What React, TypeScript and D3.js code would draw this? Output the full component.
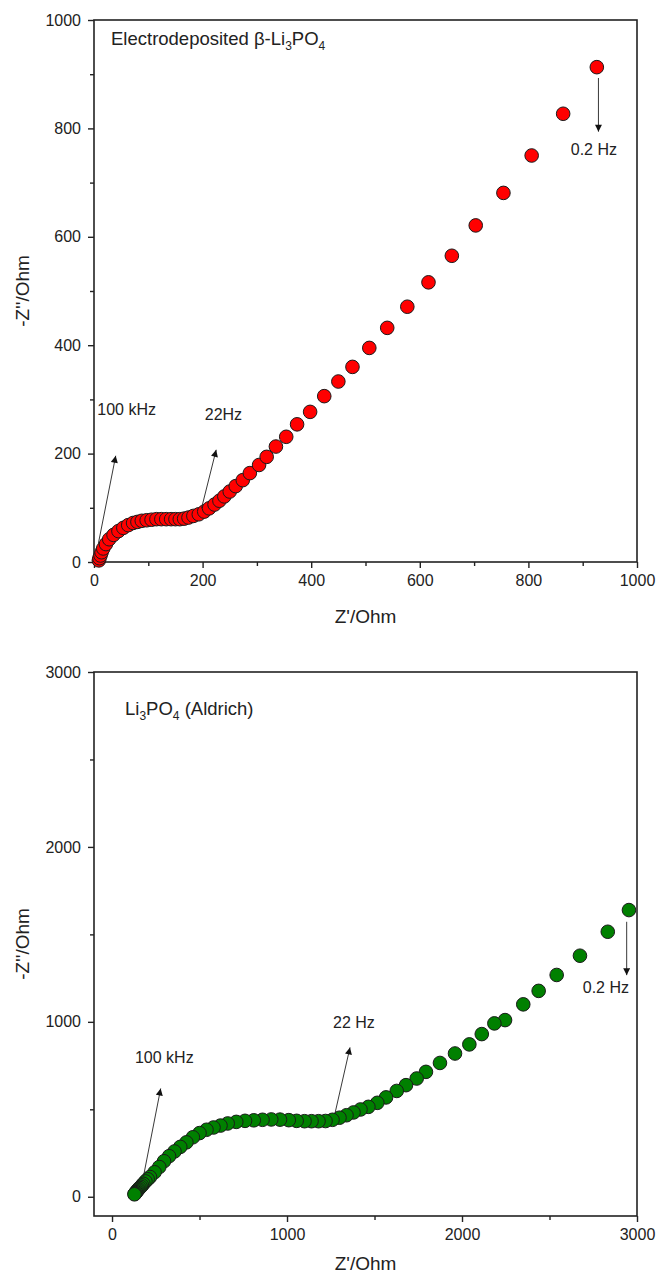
import React, { useEffect, useRef } from 'react';
import * as d3 from 'd3';

// Electrodeposited beta-Li3PO4 (Z', -Z'') in Ohm
const topZre = [926, 864, 806, 754, 703, 659, 616, 577, 540, 507, 476, 450, 424, 398, 374, 354, 335, 318, 304, 287, 274, 261, 250, 240, 231, 222, 212, 203, 193, 183, 174, 166, 158, 150, 142, 133, 124, 115, 106, 97, 88, 80, 72, 63, 54, 45, 36, 28, 22, 17, 14, 12, 10, 9];
const topZim = [913, 827, 750, 681, 621, 565, 516, 471, 432, 395, 360, 333, 306, 277, 254, 231, 213, 194, 179, 164, 151, 140, 130, 121, 113, 106, 99, 93, 88, 85, 82, 80, 79, 79, 79, 79, 79, 79, 78, 77, 76, 74, 72, 68, 63, 57, 50, 42, 33, 25, 18, 12, 7, 3];

// Li3PO4 (Aldrich)
const botZre = [128, 130, 133, 137, 141, 146, 151, 157, 164, 171, 179, 191, 204, 217, 243, 270, 297, 326, 357, 390, 425, 462, 500, 540, 580, 620, 661, 710, 760, 810, 860, 910, 960, 1010, 1055, 1100, 1140, 1180, 1220, 1260, 1300, 1340, 1380, 1420, 1465, 1516, 1566, 1627, 1680, 1741, 1794, 1874, 1960, 2042, 2113, 2185, 2246, 2350, 2438, 2541, 2674, 2833, 2954];
const botZim = [14, 17, 21, 26, 31, 37, 43, 50, 57, 65, 74, 88, 100, 113, 140, 170, 203, 232, 259, 285, 311, 340, 364, 383, 396, 407, 419, 428, 434, 437, 440, 442, 441, 438, 434, 432, 432, 432, 433, 440, 452, 466, 482, 499, 514, 537, 568, 605, 638, 676, 714, 765, 819, 871, 930, 991, 1010, 1100, 1177, 1268, 1378, 1515, 1639];

const topXTicks = [0, 200, 400, 600, 800, 1000];
const topYTicks = [0, 200, 400, 600, 800, 1000];
const botTicks = [0, 1000, 2000, 3000];

type Note = { text: string; tx: number; ty: number; ax: number[] };

const topNotes: Note[] = [
  { text: '100 kHz', tx: 6, ty: 271, ax: [8, 34, 40, 196] },
  { text: '22Hz', tx: 204, ty: 262, ax: [198, 99, 225, 207] },
  { text: '0.2 Hz', tx: 878, ty: 751, ax: [929, 893, 929, 794] },
];
const botNotes: Note[] = [
  { text: '100 kHz', tx: 131, ty: 764, ax: [179, 113, 278, 619] },
  { text: '22 Hz', tx: 1263, ty: 964, ax: [1274, 476, 1360, 854] },
  { text: '0.2 Hz', tx: 2690, ty: 1164, ax: [2941, 1572, 2941, 1267] },
];

const FONT = '"Liberation Sans", Arial, sans-serif';

type PanelOpts = {
  xs: number[];
  ys: number[];
  xDomain: [number, number];
  yDomain: [number, number];
  xTicks: number[];
  yTicks: number[];
  minorStep: number;
  left: number;
  right: number;
  top: number;
  bottom: number;
  xLabelY: number;
  fill: string;
  notes: Note[];
  title: 'top' | 'bot';
};

function drawPanel(root: d3.Selection<SVGSVGElement, unknown, null, undefined>, o: PanelOpts) {
  const x = d3.scaleLinear().domain(o.xDomain).range([o.left, o.right]);
  const y = d3.scaleLinear().domain(o.yDomain).range([o.bottom, o.top]);
  const g = root.append('g');

  // frame
  g.append('rect')
    .attr('x', o.left).attr('y', o.top)
    .attr('width', o.right - o.left).attr('height', o.bottom - o.top)
    .attr('fill', 'none').attr('stroke', '#222').attr('stroke-width', 1.6);

  const minorX = d3.range(o.xTicks[0], o.xTicks[o.xTicks.length - 1], o.minorStep).filter(v => !o.xTicks.includes(v));
  const minorY = d3.range(o.yTicks[0], o.yTicks[o.yTicks.length - 1], o.minorStep).filter(v => !o.yTicks.includes(v));

  const xAxis = g.append('g')
    .attr('transform', `translate(0,${o.bottom})`)
    .call(d3.axisBottom(x).tickValues(o.xTicks).tickSize(6).tickPadding(7).tickFormat(d3.format('d')));
  xAxis.append('g').call(d3.axisBottom(x).tickValues(minorX).tickSize(4).tickFormat(() => ''));

  const yAxis = g.append('g')
    .attr('transform', `translate(${o.left},0)`)
    .call(d3.axisLeft(y).tickValues(o.yTicks).tickSize(6).tickPadding(7).tickFormat(d3.format('d')));
  yAxis.append('g').call(d3.axisLeft(y).tickValues(minorY).tickSize(4).tickFormat(() => ''));

  g.selectAll('.domain').remove();
  g.selectAll('.tick line').attr('stroke', '#222').attr('stroke-width', 1.4);
  g.selectAll('.tick text').attr('fill', '#222').style('font-family', FONT).style('font-size', '16px');

  // points
  const pts = d3.zip(o.xs, o.ys);
  g.append('g').selectAll('circle').data(pts.slice().reverse()).join('circle')
    .attr('cx', d => x(d[0])).attr('cy', d => y(d[1]))
    .attr('r', 6.8).attr('fill', o.fill).attr('stroke', '#1a1a1a').attr('stroke-width', 1);

  // annotations
  o.notes.forEach(n => {
    g.append('line')
      .attr('x1', x(n.ax[0])).attr('y1', y(n.ax[1]))
      .attr('x2', x(n.ax[2])).attr('y2', y(n.ax[3]))
      .attr('stroke', '#222').attr('stroke-width', 0.9)
      .attr('marker-end', 'url(#arrowHead)');
    g.append('text')
      .attr('x', x(n.tx)).attr('y', y(n.ty))
      .style('font-family', FONT).style('font-size', '16px').attr('fill', '#222')
      .text(n.text);
  });

  // axis titles
  const cx = (o.left + o.right) / 2;
  g.append('text')
    .attr('x', cx).attr('y', o.xLabelY)
    .attr('text-anchor', 'middle')
    .style('font-family', FONT).style('font-size', '19px').attr('fill', '#222')
    .text("Z'/Ohm");
  g.append('text')
    .attr('transform', `translate(29,${(o.top + o.bottom) / 2}) rotate(-90)`)
    .attr('text-anchor', 'middle')
    .style('font-family', FONT).style('font-size', '19px').attr('fill', '#222')
    .text("-Z''/Ohm");

  // panel label
  const t = g.append('text')
    .style('font-family', FONT).style('font-size', '18.5px').attr('fill', '#222');
  const sub = (s: string) => t.append('tspan').attr('dy', 5).style('font-size', '12px').text(s);
  const up = (s: string) => t.append('tspan').attr('dy', -5).text(s);
  if (o.title === 'top') {
    t.attr('x', 111).attr('y', o.top + 25);
    t.append('tspan').text('Electrodeposited β-Li');
    sub('3');
    up('PO');
    sub('4');
  } else {
    t.attr('x', 125).attr('y', o.top + 43);
    t.append('tspan').text('Li');
    sub('3');
    up('PO');
    sub('4');
    up(' (Aldrich)');
  }
}

const App = () => {
  const ref = useRef<SVGSVGElement>(null);

  useEffect(() => {
    const svg = d3.select(ref.current as SVGSVGElement);
    svg.selectAll('*').remove();

    svg.append('defs').append('marker')
      .attr('id', 'arrowHead')
      .attr('viewBox', '0 0 10 10')
      .attr('refX', 10).attr('refY', 5)
      .attr('markerWidth', 8).attr('markerHeight', 7)
      .attr('markerUnits', 'userSpaceOnUse')
      .attr('orient', 'auto')
      .append('path').attr('d', 'M0,0 L10,5 L0,10 Z').attr('fill', '#111');

    drawPanel(svg, {
      xs: topZre, ys: topZim,
      xDomain: [0, 1000], yDomain: [0, 1000],
      xTicks: topXTicks, yTicks: topYTicks, minorStep: 100,
      left: 94, right: 637, top: 20, bottom: 562, xLabelY: 623,
      fill: '#ff0000', notes: topNotes, title: 'top',
    });

    drawPanel(svg, {
      xs: botZre, ys: botZim,
      xDomain: [-103, 3000], yDomain: [-110, 3000],
      xTicks: botTicks, yTicks: botTicks, minorStep: 500,
      left: 94, right: 637, top: 672, bottom: 1216, xLabelY: 1270,
      fill: '#008000', notes: botNotes, title: 'bot',
    });
  }, []);

  return (
    <svg ref={ref} width={657} height={1276}
      style={{ position: 'absolute', left: 0, top: 0, background: '#fff' }} />
  );
};

export default App;
